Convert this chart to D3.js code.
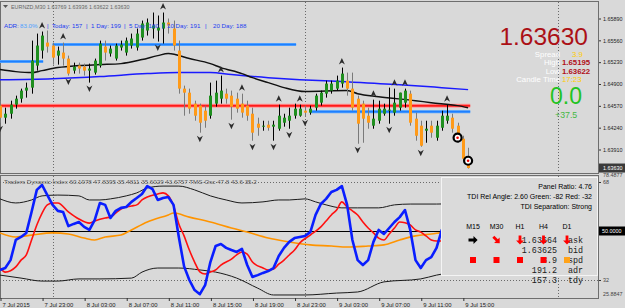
<!DOCTYPE html>
<html lang="en">
<head>
<meta charset="utf-8">
<title>EURNZD,M30 with Traders Dynamic Index</title>
<script src="https://d3js.org/d3.v7.min.js"></script>
<style>
  body{margin:0;background:#d9d9d9;}
  svg{display:block;font-family:"Liberation Sans",Arial,sans-serif;}
  .mono{font-family:"Liberation Mono","DejaVu Sans Mono",monospace;}
</style>
</head>
<body>
<div id="chart"></div>
<script>
// EURNZD M30 bars, 7 Jul 19:00 .. 9 Jul 15:30, one value per bar
var barOpen = [1.64573,1.64391,1.64451,1.64588,1.64678,1.64800,1.64845,1.65178,1.65405,1.65526,
  1.65481,1.65329,1.65375,1.65284,1.65102,1.65178,1.65163,1.65102,1.65072,1.65178,
  1.65466,1.65360,1.65284,1.65451,1.65375,1.65481,1.65451,1.65602,1.65708,1.65738,
  1.65708,1.65738,1.65829,1.65738,1.65405,1.64830,1.64769,1.64603,1.64573,1.64497,
  1.64421,1.64603,1.64678,1.64754,1.64724,1.64678,1.64603,1.64573,1.64451,1.64300,
  1.64255,1.64285,1.64255,1.64224,1.64315,1.64345,1.64421,1.64421,1.64497,1.64467,
  1.64542,1.64618,1.64754,1.64800,1.64830,1.64906,1.64951,1.64830,1.64678,1.64603,
  1.64421,1.64270,1.64345,1.64451,1.64497,1.64467,1.64542,1.64618,1.64754,1.64376,
  1.64270,1.64194,1.64270,1.64088,1.64239,1.64345,1.64391,1.64270,1.64073,1.63769]
var barHigh = [1.64648,1.64542,1.64648,1.64724,1.64830,1.64921,1.65556,1.65662,1.65693,1.65708,
  1.65526,1.65466,1.65526,1.65329,1.65223,1.65223,1.65208,1.65208,1.65284,1.65556,
  1.65556,1.65481,1.65511,1.65556,1.65602,1.65662,1.65738,1.65859,1.65890,1.65980,
  1.65935,1.65980,1.65890,1.65859,1.65556,1.64875,1.64830,1.64648,1.64603,1.64573,
  1.64921,1.64951,1.65027,1.64830,1.64800,1.64769,1.64754,1.64648,1.64542,1.64391,
  1.64345,1.64345,1.64345,1.64588,1.64451,1.64542,1.64603,1.64588,1.64573,1.64573,
  1.64754,1.64800,1.64951,1.64951,1.65027,1.65148,1.65072,1.65072,1.64724,1.64648,
  1.64542,1.64663,1.64648,1.64603,1.64845,1.64830,1.64769,1.64830,1.64800,1.64467,
  1.64345,1.64345,1.64345,1.64345,1.64497,1.64588,1.64451,1.64315,1.64118,1.63936]
var barLow = [1.64315,1.64300,1.64376,1.64527,1.64618,1.64694,1.64754,1.65102,1.65284,1.65375,
  1.65193,1.65193,1.65178,1.65027,1.65057,1.65057,1.65027,1.64921,1.65042,1.65148,
  1.65254,1.65314,1.65254,1.65405,1.65329,1.65435,1.65405,1.65556,1.65632,1.65587,
  1.65541,1.65511,1.65662,1.65405,1.64754,1.64421,1.64451,1.64345,1.64164,1.64239,
  1.64376,1.64557,1.64603,1.64603,1.64361,1.64467,1.64391,1.64345,1.64043,1.64118,
  1.64194,1.64194,1.64043,1.64194,1.64255,1.64224,1.64376,1.64406,1.64406,1.64436,
  1.64497,1.64573,1.64694,1.64754,1.64800,1.64845,1.64724,1.64497,1.63997,1.64012,
  1.64224,1.64224,1.64300,1.64421,1.64300,1.64421,1.64497,1.64542,1.64270,1.64043,
  1.63952,1.64012,1.64088,1.64043,1.64194,1.64300,1.64164,1.64012,1.63740,1.63622]
var barClose = [1.64391,1.64451,1.64588,1.64678,1.64800,1.64845,1.65254,1.65481,1.65632,1.65466,
  1.65299,1.65405,1.65284,1.65057,1.65163,1.65133,1.65102,1.65133,1.65254,1.65511,
  1.65375,1.65435,1.65481,1.65496,1.65556,1.65587,1.65662,1.65814,1.65829,1.65784,
  1.65753,1.65829,1.65784,1.65481,1.64830,1.64769,1.64527,1.64421,1.64315,1.64345,
  1.64724,1.64769,1.64800,1.64678,1.64557,1.64527,1.64467,1.64421,1.64164,1.64239,
  1.64270,1.64239,1.64285,1.64421,1.64391,1.64421,1.64527,1.64527,1.64467,1.64527,
  1.64724,1.64769,1.64906,1.64906,1.64951,1.65057,1.64830,1.64542,1.64300,1.64376,
  1.64315,1.64376,1.64527,1.64527,1.64512,1.64618,1.64769,1.64800,1.64315,1.64118,
  1.63967,1.64224,1.64164,1.64270,1.64421,1.64421,1.64224,1.64043,1.63770,1.63630]

// moving averages on the price window (bar index, price)
var maSlowIdx = [0,3,6,8,11,15,19,23,27,30,32,36,40,42,46,48,51,54,58,66,68,72,79,82,87,89]
var maSlowVal = [1.65118,1.65087,1.65072,1.65102,1.65148,1.65178,1.65193,1.65208,1.65269,1.65329,1.65360,1.65284,1.65208,1.65148,1.65057,1.64996,1.64921,1.64845,1.64785,1.64800,1.64754,1.64709,1.64648,1.64618,1.64573,1.64542]
var maBlueIdx = [0,10,19,28,34,40,44,51,57,65,76,84,89]
var maBlueVal = [1.64966,1.64981,1.65012,1.65057,1.65072,1.65072,1.65042,1.64996,1.64966,1.64936,1.64890,1.64845,1.64815]

// horizontal levels: price, first bar, last bar
var levelPrice = [1.65239, 1.65496, 1.64482, 1.64573]
var levelFrom = [0, 10, 59, 0]
var levelTo = [8.2, 56.3, 89.4, 89.4]

// fractal arrows and signal circles
var fractalUp = [8,12,31,42,46,53,57,65,71,75,77,85]
var fractalDown = [0,13,17,30,38,44,48,52,55,58,68,74,80]
var signalIdx = [87, 89]
var signalPrice = [1.64088, 1.63740]

// Traders Dynamic Index
var rsiLine = [35.7,36.4,39.3,46.7,47.8,49.3,57.0,65.1,66.9,63.2,
  59.6,57.4,57.0,51.8,52.6,53.3,51.5,50.4,54.0,60.3,
  59.6,54.8,57.4,58.5,58.8,60.7,62.1,63.6,66.5,65.4,
  61.4,62.1,62.5,59.6,47.8,37.0,32.0,28.3,26.8,30.1,
  38.6,44.5,45.2,43.8,43.0,42.3,43.4,37.5,33.1,33.8,
  34.6,35.3,36.4,40.8,43.8,46.0,47.4,47.8,48.2,49.6,
  55.9,59.9,61.8,64.3,65.1,66.5,59.6,46.7,39.3,37.5,
  39.3,46.0,50.4,48.9,51.1,53.3,55.1,57.7,50.4,39.3,
  36.4,39.3,40.4,43.8,50.4,51.1,50.0,44.9,38.6,35.0]
var sigIdx = [0,1,3,4,5,6,7,8,9,10,11,13,15,17,18,20,21,22,23,25,26,27,28,30,31,32,33,34,35,36,37,38,39,40,41,42,44,45,46,47,48,50,51,52,53,54,55,56,57,59,61,62,63,64,65,66,67,68,69,70,71,72,73,74,75,76,77,78,79,80,81,82,83,84,85,86,87,88,89]
var sigVal = [36.4,34.9,36.8,39.3,41.2,46.7,52.2,56.6,59.6,60.3,60.3,57.0,54.4,52.9,53.7,54.8,55.1,56.6,58.1,59.2,59.6,61.4,62.5,63.6,64.0,62.9,59.2,52.6,48.2,43.0,38.6,35.0,34.2,34.9,35.7,37.5,39.7,41.2,42.3,41.5,38.6,36.4,35.7,36.0,37.8,39.3,41.2,43.0,45.6,48.5,51.5,53.7,55.9,57.7,60.7,58.8,57.4,55.9,53.3,51.1,49.3,47.4,46.7,48.9,51.1,53.3,53.0,52.2,50.4,49.6,48.2,46.7,46.3,46.3,46.7,47.8,47.0,45.6,44.5]
var midIdx = [0,3,6,10,13,16,18,20,23,25,28,32,33,36,40,44,47,51,55,59,63,66,70,73,76,79,82,85,89]
var midVal = [49.3,47.8,48.5,49.3,48.9,47.4,46.7,47.8,48.5,50.4,53.3,55.9,56.6,55.1,53.3,51.1,49.6,47.4,46.0,44.9,44.5,44.1,44.5,44.9,46.7,48.2,48.9,49.6,48.5]
var upIdx = [0,3,6,8,11,15,17,19,21,24,26,28,31,34,37,40,43,46,50,53,55,58,60,62,65,68,72,75,78,83,89]
var upVal = [61.8,60.3,61.4,62.9,63.2,62.9,61.4,61.4,61.8,62.9,64.0,65.8,66.5,66.5,65.1,62.9,61.4,60.3,60.7,61.4,61.4,61.8,60.7,59.6,58.5,58.5,58.5,59.6,59.9,59.9,60.2]
var lowIdx = [0,4,8,11,15,19,25,27,30,34,38,41,45,49,52,58,64,68,73,80,83,89]
var lowVal = [33.8,32.7,31.6,31.6,32.4,32.4,32.7,34.9,36.4,36.4,35.7,34.9,32.7,29.0,26.5,26.5,27.2,27.6,31.3,32.4,33.8,35.5]
var tdiLevels = [68, 50, 32]

// axes
var priceTicks = [1.65890,1.65560,1.65230,1.64900,1.64570,1.64240,1.63910]
var timeLabels = ["7 Jul 2015","7 Jul 23:00","8 Jul 03:00","8 Jul 07:00","8 Jul 11:00","8 Jul 15:00",
  "8 Jul 19:00","8 Jul 23:00","9 Jul 03:00","9 Jul 07:00","9 Jul 11:00","9 Jul 15:00"]
var daySeparators = [10, 58, 106]

// texts
var symbol = "EURNZD,M30"
var lastOHLC = ["1.63769","1.63936","1.63622","1.63630"]
var adrPct = "83.0%"
var adrNames = ["Today","1 Day","5 Day","10 Day","20 Day"]
var adrValues = [157, 199, 180, 191, 188]
var infoNames = ["Spread","High","Low","Candle Time"]
var infoValues = ["3.9","1.65195","1.63622","17:23"]
var bidPrice = "1.63630", pipsNow = "0.0", pipsDay = "+37.5"
var tdiHeader = "Traders Dynamic Index 60.1978 47.8395 35.4811 35.6029 43.6757  TMS-Osc 47.8 43.6 35.2"
var subScale = ["78.4877", "25.8847"]
var panelLines = ["Panel Ratio: 4.76","TDI Rel Angle: 2.60 Green: -82 Red: -32","TDI Separation: Strong"]
var tfNames = ["M15","M30","H1","H4","D1"]
var tfTrend = [0,-1,-2,-2,-2]      // 0 flat, -1 easing down, -2 down
var tfState = [-1,-1,-1,-1,0]      // square colour
var quoteValues = ["1.63664","1.63625","3.9","191.2","157.3"]
var quoteNames = ["ask","bid","spd","adr","tdy"]

var W = 625, H = 308, right = 598
var mainTop = 2, mainBottom = 173, subTop = 176, subBottom = 298

var svg = d3.select("#chart").append("svg").attr("width",W).attr("height",H)
svg.append("rect").attr("width",W).attr("height",H).attr("fill","#d9d9d9")

var defs = svg.append("defs")
defs.append("clipPath").attr("id","clipMain").append("rect")
  .attr("x",0).attr("y",mainTop).attr("width",right).attr("height",mainBottom-mainTop)
defs.append("clipPath").attr("id","clipSub").append("rect")
  .attr("x",0).attr("y",subTop).attr("width",right).attr("height",subBottom-subTop)

var x = d3.scaleLinear().domain([0,89]).range([0,468.1])
var y = d3.scaleLinear().domain([1.65890,1.63910]).range([18.5,149.5])
var yT = d3.scaleLinear().domain([50,32]).range([231,280])

// window frames
svg.append("rect").attr("x",0.5).attr("y",1.5).attr("width",right).attr("height",mainBottom-1)
  .attr("fill","none").attr("stroke","#6e6e6e")
svg.append("rect").attr("x",0.5).attr("y",subTop-0.5).attr("width",right).attr("height",subBottom-subTop+1)
  .attr("fill","none").attr("stroke","#6e6e6e")

// day separators
svg.append("g").selectAll("line").data(daySeparators).enter().append("line")
  .attr("x1",function(d){return Math.round(x(d))+0.5}).attr("x2",function(d){return Math.round(x(d))+0.5})
  .attr("y1",mainTop).attr("y2",subBottom)
  .attr("stroke","#6a6a6a").attr("stroke-dasharray","1,2")

// ---------- price window
var main = svg.append("g").attr("clip-path","url(#clipMain)")

var levels = d3.range(levelPrice.length)
main.selectAll(".lvl").data(levels).enter().append("line")
  .attr("x1",function(i){return x(levelFrom[i])}).attr("x2",function(i){return x(levelTo[i])})
  .attr("y1",function(i){return y(levelPrice[i])}).attr("y2",function(i){return y(levelPrice[i])})
  .attr("stroke",function(i){return i==3 ? "#ff9a9a" : "#5aa8ff"})
  .attr("stroke-width",function(i){return i==3 ? 4 : 3})
main.selectAll(".lvl2").data(levels).enter().append("line")
  .attr("x1",function(i){return x(levelFrom[i])}).attr("x2",function(i){return x(levelTo[i])})
  .attr("y1",function(i){return y(levelPrice[i])}).attr("y2",function(i){return y(levelPrice[i])})
  .attr("stroke",function(i){return i==3 ? "#ff1a1a" : "#1e7fff"})
  .attr("stroke-width",function(i){return i==3 ? 2 : 1.6})

var maLine = d3.line().x(function(d){return x(d[0])}).y(function(d){return y(d[1])}).curve(d3.curveMonotoneX)
main.append("path").attr("d",maLine(d3.zip(maBlueIdx,maBlueVal)))
  .attr("fill","none").attr("stroke","#1a1aff").attr("stroke-width",1.5)
main.append("path").attr("d",maLine(d3.zip(maSlowIdx,maSlowVal)))
  .attr("fill","none").attr("stroke","#111").attr("stroke-width",1.5)

// candles
var bars = main.selectAll(".bar").data(d3.range(barOpen.length)).enter().append("g")
bars.append("line")
  .attr("x1",function(i){return Math.round(x(i))+0.5}).attr("x2",function(i){return Math.round(x(i))+0.5})
  .attr("y1",function(i){return y(barHigh[i])}).attr("y2",function(i){return y(barLow[i])})
  .attr("stroke",function(i){return barClose[i]>=barOpen[i] ? "#000" : "#7a7a7a"})
bars.append("rect")
  .attr("x",function(i){return Math.round(x(i))-1})
  .attr("y",function(i){return y(Math.max(barOpen[i],barClose[i]))})
  .attr("width",3)
  .attr("height",function(i){return Math.max(1,Math.abs(y(barOpen[i])-y(barClose[i])))})
  .attr("fill",function(i){return barClose[i]>=barOpen[i] ? "#1f8f1f" : "#ff9a18"})

// fractal arrows
main.selectAll(".fu").data(fractalUp).enter().append("path")
  .attr("transform",function(i){return "translate("+x(i)+","+(y(barHigh[i])-6)+")"})
  .attr("d","M0,-3.5L3,3L0,1L-3,3Z").attr("fill","#2b2b2b")
main.selectAll(".fd").data(fractalDown).enter().append("path")
  .attr("transform",function(i){return "translate("+x(i)+","+(y(barLow[i])+6)+")"})
  .attr("d","M0,3.5L3,-3L0,-1L-3,-3Z").attr("fill","#2b2b2b")

var sig = main.selectAll(".sig").data(d3.range(signalIdx.length)).enter().append("g")
  .attr("transform",function(i){return "translate("+x(signalIdx[i])+","+y(signalPrice[i])+")"})
sig.append("circle").attr("r",4).attr("fill","#fff").attr("stroke","#000").attr("stroke-width",2.2)
sig.append("circle").attr("r",1.3).attr("fill","#e00")

// price axis
var pAxis = svg.append("g").attr("transform","translate("+right+",0)")
  .call(d3.axisRight(y).tickValues(priceTicks).tickSize(2).tickFormat(d3.format(".5f")))
pAxis.select(".domain").remove()
pAxis.selectAll("line").attr("stroke","#333").attr("x1",1).attr("x2",3)
pAxis.selectAll("text").attr("x",5).attr("font-size","5.4px").attr("fill","#222").attr("font-family","Liberation Sans, Arial")
var lastY = y(+lastOHLC[3])
svg.append("rect").attr("x",right+1).attr("y",lastY-4.5).attr("width",26).attr("height",9).attr("fill","#3a3a3a")
svg.append("text").attr("x",right+5).attr("y",lastY+2).attr("font-size","5.4px").attr("fill","#fff").text(lastOHLC[3])

// header texts
svg.append("path").attr("d","M3,5L8,5L5.5,8Z").attr("fill","#555")
svg.append("text").attr("x",11).attr("y",9).attr("font-size","5.4px").attr("fill","#666")
  .text(symbol+" "+lastOHLC.join(" "))

var adr = svg.append("text").attr("y",27.5).attr("font-size","6.2px").attr("fill","#1c3cf0")
adr.append("tspan").attr("x",4).text("ADR:")
adr.append("tspan").attr("x",20).attr("fill","#4aa0ff").text(adrPct)
var adrX = [52, 91, 129, 167, 213], sepX = [47, 86, 124, 162, 205]
adrNames.forEach(function(n,i){
  adr.append("tspan").attr("x",sepX[i]).text("|")
  adr.append("tspan").attr("x",adrX[i]).text(n+": "+adrValues[i])
})

// right info block
svg.append("text").attr("x",588).attr("y",44.5).attr("text-anchor","end")
  .attr("font-size","24.5px").attr("fill","#ab1016").text(bidPrice)
var infoY = [56.5, 65, 73.5, 81.5], infoVX = [572, 562, 562, 562]
infoNames.forEach(function(n,i){
  svg.append("text").attr("x",560).attr("y",infoY[i]).attr("text-anchor","end")
    .attr("font-size","7.8px").attr("fill","#fff").text(n)
  svg.append("text").attr("x",infoVX[i]).attr("y",infoY[i])
    .attr("font-size","7.8px").attr("font-weight", i==1||i==2 ? "bold" : "normal")
    .attr("fill", i==1||i==2 ? "#b0101a" : "#ffcc00").text(infoValues[i])
})
svg.append("text").attr("x",550).attr("y",104).attr("font-size","23px").attr("fill","#22c322").text(pipsNow)
svg.append("text").attr("x",555).attr("y",117.5).attr("font-size","8.8px").attr("fill","#44b844").text(pipsDay)

// ---------- TDI window
var sub = svg.append("g").attr("clip-path","url(#clipSub)")
sub.selectAll(".lv").data(tdiLevels).enter().append("line")
  .attr("x1",0).attr("x2",right).attr("y1",function(d){return Math.round(yT(d))+0.5}).attr("y2",function(d){return Math.round(yT(d))+0.5})
  .attr("stroke",function(d){return d==50 ? "#000" : "#6a6a6a"})
  .attr("stroke-dasharray",function(d){return d==50 ? null : "1,2"})

var tLine = d3.line().x(function(d){return x(d[0])}).y(function(d){return yT(d[1])}).curve(d3.curveMonotoneX)
sub.append("path").attr("d",tLine(d3.zip(upIdx,upVal))).attr("fill","none").attr("stroke","#1a1a1a").attr("stroke-width",1)
sub.append("path").attr("d",tLine(d3.zip(lowIdx,lowVal))).attr("fill","none").attr("stroke","#1a1a1a").attr("stroke-width",1)
sub.append("path").attr("d",tLine(d3.zip(midIdx,midVal))).attr("fill","none").attr("stroke","#ff9400").attr("stroke-width",1.6)
sub.append("path").attr("d",tLine(d3.zip(sigIdx,sigVal))).attr("fill","none").attr("stroke","#ff1010").attr("stroke-width",1.6)
sub.append("path").attr("d",d3.line().x(function(d,i){return x(i)}).y(function(d){return yT(d)})(rsiLine))
  .attr("fill","none").attr("stroke","#0a1eff").attr("stroke-width",2.6).attr("stroke-linejoin","round")

svg.append("text").attr("x",4).attr("y",183.5).attr("font-size","6.2px").attr("fill","#5a5a5a").text(tdiHeader)

// info panel
var panel = svg.append("g")
panel.append("rect").attr("x",441.5).attr("y",177.5).attr("width",156).attr("height",98)
  .attr("fill","#dadada").attr("stroke","#f4f4f4")
panelLines.forEach(function(t,i){
  panel.append("text").attr("x",592).attr("y",188.5+i*10).attr("text-anchor","end")
    .attr("font-size","7px").attr("fill","#000").text(t)
})
var tfX = d3.scalePoint().domain(tfNames).range([473,567])
tfNames.forEach(function(n){
  panel.append("text").attr("x",tfX(n)).attr("y",228.5).attr("text-anchor","middle")
    .attr("font-size","7px").attr("fill","#000").text(n)
})
quoteValues.forEach(function(v,i){
  panel.append("text").attr("class","mono").attr("x",557).attr("y",243+i*10).attr("text-anchor","end")
    .attr("font-size","8.4px").attr("fill","#1a1a1a").text(v)
  panel.append("text").attr("class","mono").attr("x",568).attr("y",243+i*10)
    .attr("font-size","8.4px").attr("fill","#1a1a1a").text(quoteNames[i])
})
tfNames.forEach(function(n,i){
  panel.append("path").attr("d","M-4.5,-1.4L0.5,-1.4L0.5,-3.9L4.6,0L0.5,3.9L0.5,1.4L-4.5,1.4Z")
    .attr("transform","translate("+tfX(n)+",240) rotate("+(-tfTrend[i]*45)+")")
    .attr("fill", tfTrend[i]<0 ? "#ff0000" : "#000")
  panel.append("rect").attr("x",tfX(n)-3).attr("y",257).attr("width",6).attr("height",6)
    .attr("fill", tfState[i]<0 ? "#ff0000" : "#ffa31a")
})

// TDI scale
var tAxis = svg.append("g").attr("transform","translate("+right+",0)")
  .call(d3.axisRight(yT).tickValues([68,32]).tickSize(2).tickFormat(d3.format("d")))
tAxis.select(".domain").remove()
tAxis.selectAll("line").attr("stroke","#333").attr("x1",1).attr("x2",3)
tAxis.selectAll("text").attr("x",5).attr("font-size","5.4px").attr("fill","#444")
svg.append("text").attr("x",right+5).attr("y",177).attr("font-size","5.4px").attr("fill","#444").text(subScale[0])
svg.append("text").attr("x",right+5).attr("y",296).attr("font-size","5.4px").attr("fill","#444").text(subScale[1])
svg.append("rect").attr("x",right+1).attr("y",yT(50)-4.5).attr("width",26).attr("height",9).attr("fill","#000")
svg.append("text").attr("x",right+4).attr("y",yT(50)+2).attr("font-size","5.4px").attr("fill","#fff").text(d3.format(".4f")(50))

// time axis
var xAxis = svg.append("g").attr("transform","translate(0,"+subBottom+")")
  .call(d3.axisBottom(x).tickValues(d3.range(0,89,8)).tickSize(3).tickFormat(function(d,i){return timeLabels[i]}))
xAxis.select(".domain").remove()
xAxis.selectAll("line").attr("stroke","#333").attr("transform","translate(0.5,0)")
xAxis.selectAll("text").attr("text-anchor","start").attr("x",2).attr("y",5).attr("dy","0.71em")
  .attr("font-size","5.9px").attr("fill","#222").attr("font-family","Liberation Sans, Arial")
</script>
</body>
</html>
